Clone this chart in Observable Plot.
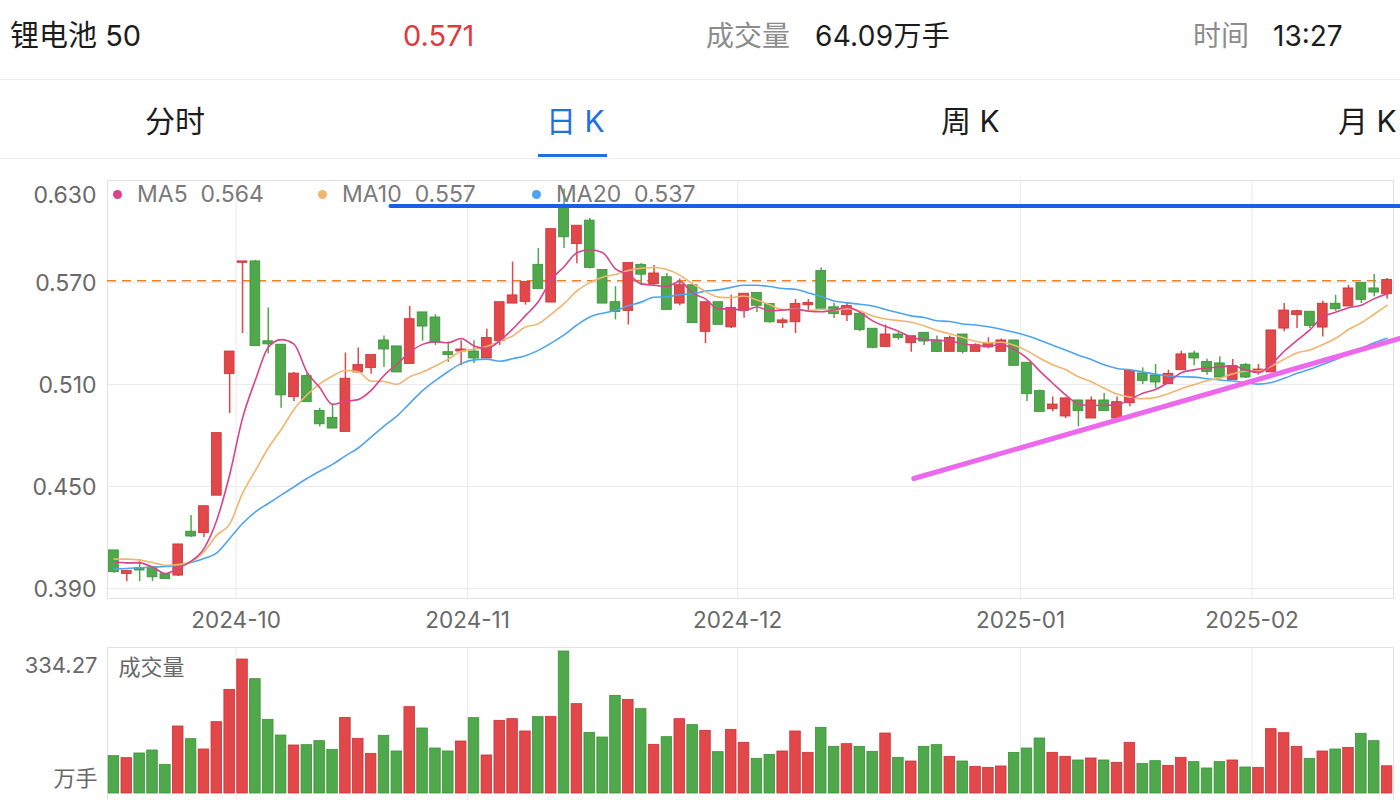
<!DOCTYPE html>
<html>
<head>
<meta charset="utf-8">
<script src="https://cdn.jsdelivr.net/npm/d3@7"></script>
<script src="https://cdn.jsdelivr.net/npm/@observablehq/plot@0.6"></script>
<style>
  html, body { margin: 0; padding: 0; background: #fff; }
  body { width: 1400px; height: 800px; overflow: hidden; position: relative;
         font-family: Inter, "Noto Sans CJK SC", sans-serif; }
  .t { position: absolute; line-height: 40px; white-space: nowrap; }
  .sep { position: absolute; left: 0; width: 1400px; height: 1px; background: #ececec; }
  .leg { position: absolute; top: 179px; line-height: 30px; font-size: 23px; color: #7a7a7a; white-space: nowrap; }
  .dot { display: inline-block; width: 9px; height: 9px; border-radius: 50%; margin-right: 15px; vertical-align: 3px; }
  #price, #volume { position: absolute; left: 0; }
  #price { top: 160px; }
  #volume { top: 640px; }
</style>
</head>
<body>
<div class="t" style="left:10px;top:16px;font-size:29px;color:#1c1c1c">锂电池 50</div>
<div class="t" style="left:403px;top:16px;font-size:29px;color:#e03a3e">0.571</div>
<div class="t" style="left:706px;top:16px;font-size:28px;color:#8c8c8c">成交量</div>
<div class="t" style="left:815px;top:16px;font-size:28px;color:#1c1c1c;letter-spacing:0.3px">64.09万手</div>
<div class="t" style="left:1193px;top:16px;font-size:28px;color:#8c8c8c">时间</div>
<div class="t" style="left:1273px;top:16px;font-size:28px;color:#1c1c1c">13:27</div>
<div class="sep" style="top:79px"></div>
<div class="t" style="left:145px;top:101px;font-size:30px;color:#1c1c1c">分时</div>
<div class="t" style="left:546px;top:101px;font-size:30px;color:#1f6fe5">日 K</div>
<div class="t" style="left:941px;top:101px;font-size:30px;color:#1c1c1c">周 K</div>
<div class="t" style="left:1338px;top:101px;font-size:30px;color:#1c1c1c">月 K</div>
<div style="position:absolute;left:538px;top:154px;width:69px;height:3px;background:#1f6fe5"></div>
<div class="sep" style="top:158px"></div>
<div id="price"></div>
<div id="legend"></div>
<div id="volume"></div>
<script>
// ---- data ----
const dates = [
  "2024-09-13","2024-09-18","2024-09-19","2024-09-20","2024-09-23","2024-09-24","2024-09-25","2024-09-26","2024-09-27","2024-09-30",
  "2024-10-08","2024-10-09","2024-10-10","2024-10-11","2024-10-14","2024-10-15","2024-10-16","2024-10-17","2024-10-18",
  "2024-10-21","2024-10-22","2024-10-23","2024-10-24","2024-10-25","2024-10-28","2024-10-29","2024-10-30","2024-10-31",
  "2024-11-01","2024-11-04","2024-11-05","2024-11-06","2024-11-07","2024-11-08","2024-11-11","2024-11-12","2024-11-13",
  "2024-11-14","2024-11-15","2024-11-18","2024-11-19","2024-11-20","2024-11-21","2024-11-22","2024-11-25","2024-11-26",
  "2024-11-27","2024-11-28","2024-11-29",
  "2024-12-02","2024-12-03","2024-12-04","2024-12-05","2024-12-06","2024-12-09","2024-12-10","2024-12-11","2024-12-12",
  "2024-12-13","2024-12-16","2024-12-17","2024-12-18","2024-12-19","2024-12-20","2024-12-23","2024-12-24","2024-12-25",
  "2024-12-26","2024-12-27","2024-12-30","2024-12-31",
  "2025-01-02","2025-01-03","2025-01-06","2025-01-07","2025-01-08","2025-01-09","2025-01-10","2025-01-13","2025-01-14",
  "2025-01-15","2025-01-16","2025-01-17","2025-01-20","2025-01-21","2025-01-22","2025-01-23","2025-01-24","2025-01-27",
  "2025-02-05","2025-02-06","2025-02-07","2025-02-10","2025-02-11","2025-02-12","2025-02-13","2025-02-14","2025-02-17",
  "2025-02-18","2025-02-19"
];
const open = [
  0.412,0.399,0.4015,0.402,0.398,0.398,0.423,0.423,0.445,0.5165,
  0.582,0.582,0.535,0.533,0.503,0.5145,0.494,0.490,0.4825,0.5175,
  0.520,0.5355,0.532,0.5225,0.552,0.549,0.5286,0.5298,0.529,0.5257,
  0.536,0.558,0.559,0.580,0.5586,0.6145,0.593,0.606,0.577,0.558,
  0.5537,0.580,0.5694,0.5727,0.558,0.568,0.5414,0.558,0.544,0.5537,
  0.5635,0.557,0.5465,0.547,0.557,0.5763,0.555,0.5512,0.5512,0.5424,
  0.5325,0.539,0.5347,0.540,0.5355,0.5296,0.539,0.5296,0.5322,0.5296,
  0.5355,0.5224,0.5057,0.4959,0.4916,0.5002,0.4904,0.5002,0.4904,0.4994,
  0.5161,0.5149,0.5106,0.5188,0.5278,0.5229,0.522,0.5131,0.521,0.5175,
  0.5175,0.5433,0.5512,0.5524,0.5439,0.5571,0.5563,0.5694,0.5661,0.5635
];
const high = [
  0.412,0.400,0.407,0.403,0.398,0.416,0.433,0.438,0.481,0.529,
  0.582,0.583,0.555,0.5335,0.517,0.5165,0.496,0.498,0.5285,0.5315,
  0.527,0.5385,0.532,0.556,0.552,0.551,0.535,0.5357,0.5357,0.5425,
  0.558,0.582,0.570,0.590,0.601,0.625,0.603,0.6076,0.577,0.5675,
  0.581,0.581,0.580,0.5753,0.572,0.568,0.558,0.558,0.5625,0.563,
  0.5635,0.557,0.549,0.560,0.560,0.5786,0.5576,0.5576,0.5512,0.5424,
  0.545,0.541,0.538,0.540,0.5386,0.5386,0.539,0.534,0.5375,0.5367,
  0.5357,0.5224,0.5067,0.5027,0.5022,0.5008,0.5027,0.5047,0.5027,0.5184,
  0.5198,0.5218,0.5184,0.5296,0.5296,0.5249,0.5263,0.5247,0.5224,0.5218,
  0.5414,0.5576,0.5537,0.5524,0.559,0.5625,0.5684,0.5694,0.5747,0.5724
];
const low = [
  0.399,0.394,0.394,0.394,0.3955,0.397,0.420,0.420,0.445,0.493,
  0.540,0.533,0.528,0.496,0.500,0.500,0.485,0.484,0.4825,0.5165,
  0.516,0.520,0.5175,0.5225,0.5355,0.533,0.523,0.521,0.5224,0.5257,
  0.533,0.5576,0.5567,0.5665,0.5586,0.590,0.581,0.578,0.558,0.548,
  0.545,0.5684,0.5684,0.5543,0.5563,0.5465,0.534,0.5455,0.543,0.549,
  0.5524,0.546,0.543,0.540,0.5527,0.5543,0.5488,0.547,0.541,0.531,
  0.5325,0.536,0.529,0.533,0.529,0.5296,0.528,0.5296,0.531,0.5296,
  0.5214,0.500,0.4943,0.4939,0.490,0.4851,0.4904,0.4947,0.4904,0.4969,
  0.510,0.5076,0.5106,0.5188,0.521,0.5155,0.5145,0.5131,0.5135,0.5155,
  0.5175,0.541,0.5429,0.5429,0.538,0.5531,0.5563,0.5576,0.5616,0.5602
];
const close = [
  0.400,0.400,0.401,0.397,0.396,0.4155,0.421,0.438,0.481,0.529,
  0.582,0.533,0.534,0.504,0.516,0.500,0.487,0.4845,0.513,0.521,
  0.527,0.531,0.5175,0.548,0.5445,0.535,0.5278,0.5302,0.5257,0.537,
  0.558,0.562,0.570,0.5665,0.601,0.597,0.603,0.579,0.558,0.553,
  0.581,0.575,0.5749,0.5543,0.568,0.5465,0.558,0.5455,0.5547,0.563,
  0.5567,0.547,0.5473,0.557,0.5576,0.555,0.5518,0.5557,0.5425,0.532,
  0.539,0.5378,0.538,0.5357,0.5296,0.537,0.5296,0.5327,0.5335,0.5355,
  0.5214,0.5047,0.4943,0.4978,0.5014,0.4947,0.5002,0.4947,0.4992,0.5175,
  0.5125,0.5116,0.5159,0.5273,0.5257,0.5178,0.5145,0.5204,0.5145,0.5184,
  0.5414,0.5531,0.5527,0.5449,0.5571,0.5547,0.5661,0.5602,0.5645,0.571
];
const volume = [
  87.9,83.2,94.2,101.2,67.5,157.7,127.9,103.6,167.9,244.0,
  315.4,269.2,173.4,136.5,113.0,113.8,123.2,102.8,178.1,128.7,
  93.4,135.8,98.9,203.2,153.0,105.9,98.9,122.4,177.3,89.5,
  171.1,175.0,146.0,179.7,180.5,334.27,210.3,142.8,131.8,229.9,
  220.5,198.5,114.6,132.6,175.0,160.9,147.5,97.3,149.9,119.3,
  81.6,91.0,98.9,146.0,95.7,154.6,109.9,116.1,109.9,98.1,
  141.2,84.0,75.3,109.9,113.8,86.3,75.3,62.8,60.4,63.6,
  95.7,105.9,129.5,95.7,86.3,77.7,82.4,77.7,72.2,119.3,
  69.8,76.1,65.1,84.0,73.8,58.9,73.8,77.7,61.2,60.4,
  151.5,142.0,109.9,81.6,98.9,103.6,107.5,140.5,123.2,64.09
];
// moving-average values for the first bars of each line
// (their windows reach back before the first visible day)
const ma5Lead = [0.4057, 0.4051, 0.4051, 0.4025];
const ma10Lead = [0.4073, 0.4073, 0.4067, 0.4053, 0.4037, 0.4041, 0.4057, 0.4116, 0.4214];
const ma20Lead = [0.4014, 0.4018, 0.4022, 0.4025, 0.4029, 0.4037, 0.4053, 0.4076, 0.4110, 0.4194,
                  0.4282, 0.4351, 0.4400, 0.4449, 0.4498, 0.4547, 0.4590, 0.4630, 0.4680];
const monthLabels = ["2024-10","2024-11","2024-12","2025-01","2025-02"];
const yTicks = [0.630, 0.570, 0.510, 0.450, 0.390];
const lastPrice = 0.571;
const volMax = 334.27;
const maPeriods = [5, 10, 20];
const maValues = [0.564, 0.557, 0.537];
const maColors = ["#d8438c", "#f0b56e", "#4ea4ef"];
// hand-drawn trend lines: [bar position, price]
const resistanceLine = [[21.5, 0.615], [100, 0.615]];
const supportLine = [[62.2, 0.4547], [100, 0.5371]];

// ---- build ----
const RED = "#e2474a", RED_EDGE = "#c93236", GREEN = "#4fa84b", GREEN_EDGE = "#3a9137";
const rows = dates.map((d, i) => ({
  i, date: d, open: open[i], high: high[i], low: low[i], close: close[i], volume: volume[i],
  up: close[i] >= open[i]
}));
const monthPos = monthLabels.map(m => dates.findIndex(d => d.startsWith(m)) - 0.5);
const leads = [ma5Lead, ma10Lead, ma20Lead];
const maSeries = maPeriods.map((k, j) => close.map((c, i) => ({
  i, ma: i < k - 1 ? leads[j][i] : d3.mean(close.slice(i - k + 1, i + 1))
})));
const font = 'Inter, "Noto Sans CJK SC", sans-serif';

const price = Plot.plot({
  width: 1400, height: 480,
  marginTop: 20, marginBottom: 42, marginLeft: 107, marginRight: 7,
  x: {domain: [-0.5, 99.5], axis: null},
  y: {domain: [0.39, 0.63], insetBottom: 10, axis: null},
  color: {type: "identity"},
  style: {fontFamily: font, background: "transparent", overflow: "visible"},
  marks: [
    Plot.ruleY(yTicks, {stroke: "#ebebeb", strokeWidth: 1}),
    Plot.ruleX(monthPos, {stroke: "#ebebeb", strokeWidth: 1}),
    Plot.frame({stroke: "#e2e2e2"}),
    Plot.ruleY([lastPrice], {stroke: "#e8832b", strokeWidth: 1.6, strokeDasharray: "9,6"}),
    Plot.ruleX(rows, {x: "i", y1: "low", y2: "high", stroke: d => d.up ? RED : GREEN, strokeWidth: 1.5}),
    Plot.rect(rows, {
      x1: d => d.i - 0.38, x2: d => d.i + 0.38, y1: "open", y2: "close",
      fill: d => d.up ? RED : GREEN, stroke: d => d.up ? RED_EDGE : GREEN_EDGE, strokeWidth: 0.8,
      insetTop: -0.7, insetBottom: -0.7
    }),
    ...maSeries.map((s, j) => Plot.line(s, {x: "i", y: "ma", stroke: maColors[j], strokeWidth: 1.6, curve: "monotone-x"})).reverse(),
    Plot.line(resistanceLine, {x: d => d[0], y: d => d[1], stroke: "#1c5fe4", strokeWidth: 4}),
    Plot.line(supportLine, {x: d => d[0], y: d => d[1], stroke: "#ec68ec", strokeWidth: 5, strokeLinecap: "round"}),
    Plot.text(yTicks.slice(1), {y: d => d, frameAnchor: "left", dx: -11, dy: 1, textAnchor: "end",
      fontSize: 23, fill: "#686868", text: d => d3.format(".3f")(d)}),
    Plot.text(yTicks.slice(0, 1), {y: d => d, frameAnchor: "left", dx: -11, dy: 15, textAnchor: "end",
      fontSize: 23, fill: "#686868", text: d => d3.format(".3f")(d)}),
    Plot.text(monthLabels, {x: (d, i) => monthPos[i], frameAnchor: "bottom", dy: 29,
      fontSize: 22.5, fill: "#686868", text: d => d})
  ]
});
document.getElementById("price").appendChild(price);

// legend
const leg = document.getElementById("legend");
const legLeft = [113, 318, 532];
maPeriods.forEach((k, j) => {
  const el = document.createElement("div");
  el.className = "leg";
  el.style.left = legLeft[j] + "px";
  el.innerHTML = `<span class="dot" style="background:${maColors[j]}"></span>MA${k}&nbsp;&nbsp;${maValues[j].toFixed(3)}`;
  leg.appendChild(el);
});

const vol = Plot.plot({
  width: 1400, height: 162,
  marginTop: 7, marginBottom: 0, marginLeft: 107, marginRight: 7,
  x: {domain: [-0.5, 99.5], axis: null},
  y: {domain: [0, volMax], insetTop: 4, insetBottom: 9, axis: null},
  color: {type: "identity"},
  style: {fontFamily: font, background: "transparent", overflow: "visible"},
  marks: [
    Plot.ruleX(monthPos, {stroke: "#ebebeb"}),
    Plot.frame({stroke: "#e2e2e2"}),
    Plot.rect(rows, {
      x1: d => d.i - 0.41, x2: d => d.i + 0.41, y1: 0, y2: "volume",
      fill: d => d.up ? RED : GREEN, stroke: d => d.up ? RED_EDGE : GREEN_EDGE, strokeWidth: 0.8
    }),
    Plot.text([volMax], {y: d => d, frameAnchor: "left", dx: -10, dy: 14, textAnchor: "end",
      fontSize: 22, fill: "#686868", text: d => d3.format(".2f")(d)}),
    Plot.text(["万手"], {y: [0], frameAnchor: "left", dx: -10, dy: -15, textAnchor: "end",
      fontSize: 22, fill: "#686868", text: d => d}),
    Plot.text(["成交量"], {frameAnchor: "top-left", dx: 11, dy: 12, textAnchor: "start", lineAnchor: "top",
      fontSize: 22, fill: "#686868", text: d => d})
  ]
});
document.getElementById("volume").appendChild(vol);
</script>
</body>
</html>
